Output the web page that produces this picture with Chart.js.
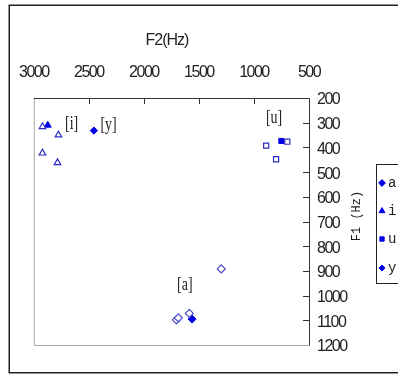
<!DOCTYPE html>
<html><head><meta charset="utf-8">
<script src="https://cdn.jsdelivr.net/npm/chart.js@4"></script>
<style>html,body{margin:0;padding:0;overflow:hidden;background:#fff}#wrap{width:440px;height:378px;position:relative}</style>
</head><body><div id="wrap"><canvas id="c" width="440" height="378"></canvas></div>
<script>
// ---- data (F2 in Hz on x, F1 in Hz on y) ----
const seriesNames = ['a', 'i', 'u', 'y'];
const aF2 = [1562];            const aF1 = [1095];
const iF2 = [2873];            const iF1 = [310];
const uF2 = [751];             const uF1 = [374];
const yF2 = [2454];            const yF1 = [332];
const aOpenF2 = [1297, 1705, 1687, 1587]; const aOpenF1 = [892, 1098, 1090, 1072];
const iOpenF2 = [2921, 2776, 2921, 2785]; const iOpenF1 = [316, 350, 423, 462];
const uOpenF2 = [889, 697, 799];          const uOpenF1 = [393, 377, 448];
const xTicks = [3000, 2500, 2000, 1500, 1000, 500];
const yTicks = [200, 300, 400, 500, 600, 700, 800, 900, 1000, 1100, 1200];
const vowelLabels = ['[i]', '[y]', '[u]', '[a]'];
const vowelLabelF2 = [2656, 2321, 817, 1628];
const vowelLabelF1 = [305, 309, 281, 957];

const SANS = "'Liberation Sans',Arial,sans-serif";
const toPts = (xs, ys) => xs.map((x, k) => ({x: x, y: ys[k]}));
const FILL = '#0000e6', OUT = '#2a2ac0';

function filled(label, xs, ys, style, r) {
  return {label, data: toPts(xs, ys), pointStyle: style, pointRadius: r, pointHoverRadius: r,
    backgroundColor: FILL, borderColor: FILL, pointBorderWidth: 1, showLine: false, inLegend: true};
}
function open(label, xs, ys, style, r, col) {
  return {label, data: toPts(xs, ys), pointStyle: style, pointRadius: r, pointHoverRadius: r,
    backgroundColor: '#fff', borderColor: col || OUT, pointBorderWidth: 1.2, showLine: false, inLegend: false};
}

const datasets = [
  open('a open', aOpenF2, aOpenF1, 'rectRot', 4, '#4848c8'),
  open('i open', iOpenF2, iOpenF1, 'triangle', 3.8),
  open('u open', uOpenF2, uOpenF1, 'rect', 3.6),
  filled(seriesNames[0], aF2, aF1, 'rectRot', 4),
  filled(seriesNames[1], iF2, iF1, 'triangle', 4),
  filled(seriesNames[2], uF2, uF1, 'rect', 3.6),
  filled(seriesNames[3], yF2, yF1, 'rectRot', 3.6)
];

const deco = {
  id: 'deco',
  beforeDraw(chart) {
    const c = chart.ctx;
    c.save();
    c.fillStyle = '#fff';
    c.fillRect(0, 0, chart.width, chart.height);
    c.strokeStyle = '#222';
    c.lineWidth = 1.5;
    c.strokeRect(9.25, 5.25, 460, 367.5);
    c.restore();
    // narrow the tick label lettering (reference uses a condensed face)
    if ('letterSpacing' in c) c.letterSpacing = '-1.5px';
  },
  beforeDatasetsDraw(chart) {
    if ('letterSpacing' in chart.ctx) chart.ctx.letterSpacing = '0px';
  },
  afterDraw(chart) {
    const c = chart.ctx, a = chart.chartArea;
    const xs = chart.scales.x, ys = chart.scales.y;
    c.save();
    // plot frame
    c.lineWidth = 1;
    c.strokeStyle = '#a8a8a8';
    c.beginPath();
    c.moveTo(a.left + 0.5, a.top); c.lineTo(a.left + 0.5, a.bottom + 0.5); c.lineTo(a.right, a.bottom + 0.5);
    c.stroke();
    c.strokeStyle = '#333';
    c.beginPath();
    c.moveTo(a.left, a.top + 0.5); c.lineTo(a.right + 0.5, a.top + 0.5); c.lineTo(a.right + 0.5, a.bottom + 0.5);
    c.stroke();
    // inward tick marks
    c.beginPath();
    xTicks.slice(1, -1).forEach(v => { const px = Math.round(xs.getPixelForValue(v)) + 0.5; c.moveTo(px, a.top); c.lineTo(px, a.top + 6); });
    yTicks.slice(1, -1).forEach(v => { const py = Math.round(ys.getPixelForValue(v)) + 0.5; c.moveTo(a.right, py); c.lineTo(a.right - 6, py); });
    c.stroke();
    // axis titles
    c.fillStyle = '#222';
    c.font = '16px ' + SANS;
    if ('letterSpacing' in c) c.letterSpacing = '-1px';
    c.textAlign = 'center'; c.textBaseline = 'middle';
    c.fillText('F2(Hz)', 167, 41);
    if ('letterSpacing' in c) c.letterSpacing = '0px';
    c.save();
    c.translate(357, 216);
    c.rotate(-Math.PI / 2);
    c.font = "12px 'Liberation Mono',monospace";
    c.fillText('F1 (Hz)', 0, 0);
    c.restore();
    // vowel labels
    c.font = "17px 'Liberation Serif',serif";
    vowelLabels.forEach((t, k) => {
      const px = xs.getPixelForValue(vowelLabelF2[k]), py = ys.getPixelForValue(vowelLabelF1[k]);
      c.save(); c.translate(px, py); c.scale(0.82, 1.05); c.fillText(t, 0, 0); c.restore();
    });
    // legend (partly off the page, as in the reference)
    c.strokeStyle = '#222'; c.lineWidth = 1;
    c.strokeRect(376.5, 164.5, 60, 119);
    const legendY = [183, 211, 239, 268];
    c.font = "14px 'Liberation Mono',monospace";
    c.textAlign = 'left';
    chart.data.datasets.filter(d => d.inLegend).forEach((d, k) => {
      c.fillStyle = d.backgroundColor; c.strokeStyle = d.borderColor; c.lineWidth = 1;
      Chart.helpers.drawPoint(c, {pointStyle: d.pointStyle, radius: d.pointRadius * 0.85, rotation: 0, borderWidth: 1}, 382, legendY[k]);
      c.fillStyle = '#222';
      c.fillText(d.label, 388, legendY[k]);
    });
    c.restore();
  }
};

const tickFont = {family: SANS, size: 16};
new Chart(document.getElementById('c'), {
  type: 'scatter',
  data: {datasets},
  options: {
    responsive: false, animation: false, devicePixelRatio: 1,
    layout: {padding: {left: 33, top: 48, right: 71, bottom: 33}},
    plugins: {legend: {display: false}, tooltip: {enabled: false}},
    scales: {
      x: {type: 'linear', position: 'top', reverse: true, min: 500, max: 3000,
        afterBuildTicks: s => { s.ticks = xTicks.map(v => ({value: v})); },
        ticks: {padding: 16, color: '#222', font: tickFont, maxRotation: 0, autoSkip: false, callback: v => String(v)},
        grid: {display: false, drawTicks: false}, border: {display: false},
        afterFit: s => { s.height = 50; }},
      y: {type: 'linear', position: 'right', reverse: true, min: 200, max: 1200,
        afterBuildTicks: s => { s.ticks = yTicks.map(v => ({value: v})); },
        ticks: {padding: 8, labelOffset: 2, color: '#222', font: tickFont, autoSkip: false, callback: v => String(v)},
        grid: {display: false, drawTicks: false}, border: {display: false},
        afterFit: s => { s.width = 60; }}
    }
  },
  plugins: [deco]
});
</script></body></html>
